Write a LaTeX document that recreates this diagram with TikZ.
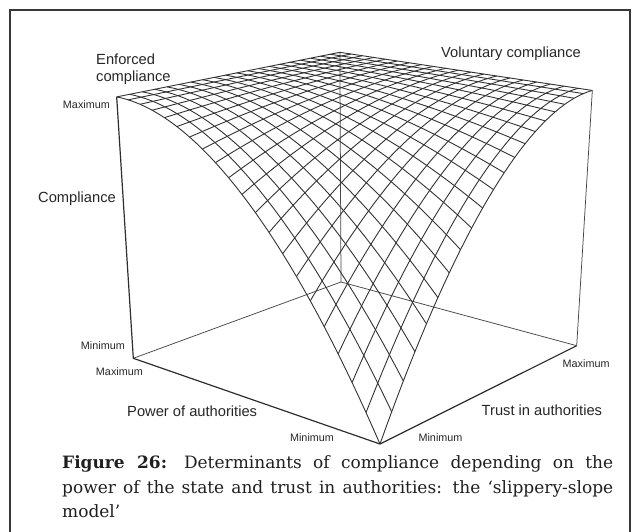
\documentclass[tikz,border=0pt]{standalone}
\usepackage{fontspec}
\setmainfont{Liberation Sans}
\newfontfamily\capfont{DejaVu Serif}
\begin{document}
\begin{tikzpicture}[x=1pt,y=-1pt,
  declare function={
    pw(\qa,\qb,\qc)=1+0.1437*\qa+0.1733*\qb-0.0785*\qc;
    pu(\qa,\qb,\qc)=(380-227.54*\qa+296.64*\qb-28.17*\qc)/pw(\qa,\qb,\qc);
    pv(\qa,\qb,\qc)=(444-34.21*\qa-38.39*\qb-306.6*\qc)/pw(\qa,\qb,\qc);
    sz(\qa,\qb)=1-(1-\qa)*(1-\qa)*(1-\qb)*(1-\qb);
  },
  meshline/.style={draw=black!80, line width=0.9pt},
  frontedge/.style={draw=black!82, line width=1.2pt},
  backedge/.style={draw=black!72, line width=0.75pt},
  framestyle/.style={draw=black!78, line width=1.1pt},
  biglabel/.style={inner sep=0pt, text=black!85, font=\fontsize{14.7}{17}\selectfont},
  smalllabel/.style={inner sep=0pt, text=black!85, font=\fontsize{10.8}{12}\selectfont},
  capstyle/.style={inner sep=0pt, text=black!88, font=\capfont\fontsize{17}{20}\selectfont}
]
\useasboundingbox (0,0) rectangle (642,532);
\draw[framestyle] (10,532) -- (10,10) -- (630,10) -- (630,532);

% cube corners
\coordinate (F0) at ({pu(0,0,0)},{pv(0,0,0)});
\coordinate (L0) at ({pu(1,0,0)},{pv(1,0,0)});
\coordinate (R0) at ({pu(0,1,0)},{pv(0,1,0)});
\coordinate (B0) at ({pu(1,1,0)},{pv(1,1,0)});
\coordinate (L1) at ({pu(1,0,1)},{pv(1,0,1)});
\coordinate (R1) at ({pu(0,1,1)},{pv(0,1,1)});
\coordinate (B1) at ({pu(1,1,1)},{pv(1,1,1)});

% box edges
\draw[backedge] (L0) -- (B0) -- (R0);
\draw[backedge] (B0) -- (B1);
\draw[backedge] (R0) -- (R1);
\draw[frontedge] (L1) -- (L0) -- (F0) -- (R0);

% mesh
\foreach \k in {0,...,20}{
  \pgfmathsetmacro\qq{\k/20}
  \draw[meshline] plot[variable=\s, domain=0:1, samples=41] ({pu(\s,\qq,sz(\s,\qq))},{pv(\s,\qq,sz(\s,\qq))});
  \draw[meshline] plot[variable=\s, domain=0:1, samples=41] ({pu(\qq,\s,sz(\qq,\s))},{pv(\qq,\s,sz(\qq,\s))});
}

% labels
\node[biglabel, anchor=west, align=left] (enf) at (96,69) {Enforced\\compliance};
\node[biglabel, anchor=west] (vol) at (441,53.5) {Voluntary compliance};
\node[smalllabel, anchor=east] (maxtl) at (110,105) {Maximum};
\node[biglabel, anchor=west] (comp) at (38,199) {Compliance};
\node[smalllabel, anchor=east] (minl) at (125,346) {Minimum};
\node[smalllabel, anchor=east] (maxl) at (143,372) {Maximum};
\node[biglabel, anchor=west] (power) at (127,411.5) {Power of authorities};
\node[smalllabel] (minfl) at (312,437.5) {Minimum};
\node[smalllabel] (minfr) at (440.5,437.5) {Minimum};
\node[biglabel, anchor=west] (trust) at (481.5,410) {Trust in authorities};
\node[smalllabel, anchor=west] (maxr) at (562.5,364) {Maximum};

% caption
\node[capstyle, anchor=base west] (cap1) at (62,468.5) {\makebox[551pt][s]{\textbf{Figure 26:}\quad Determinants of compliance depending on the}};
\node[capstyle, anchor=base west] (cap2) at (62,493) {\makebox[551pt][s]{power of the state and trust in authorities: the ‘slippery-slope}};
\node[capstyle, anchor=base west] (cap3) at (62,517) {model’};
\end{tikzpicture}
\end{document}
